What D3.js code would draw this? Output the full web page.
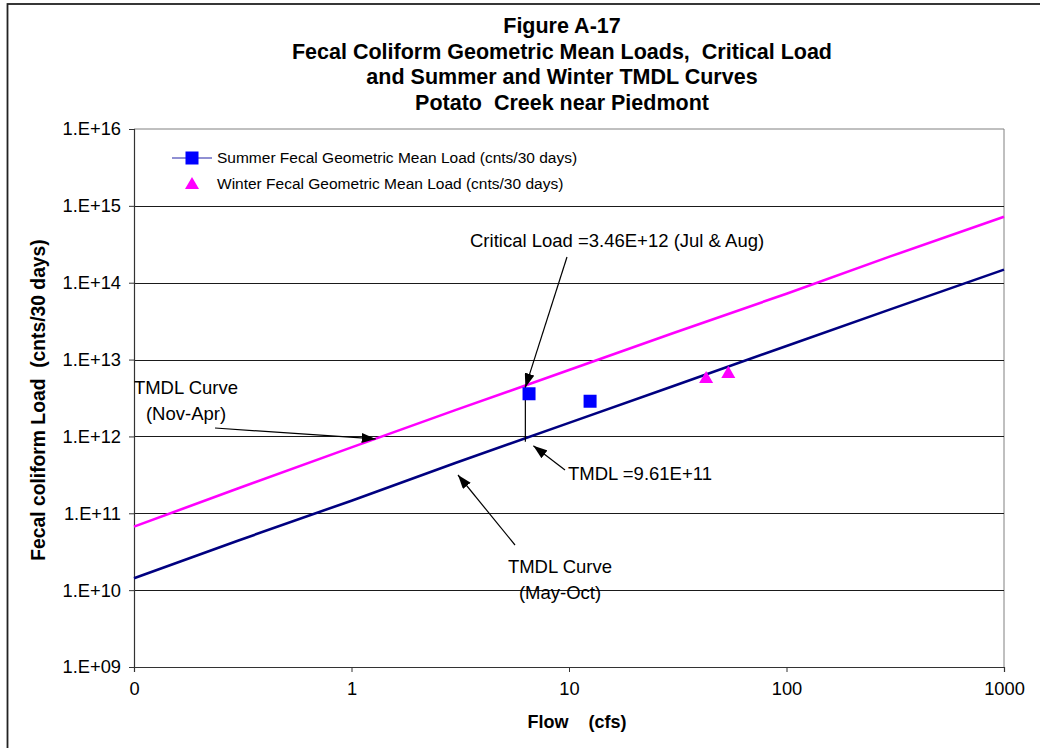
<!DOCTYPE html>
<html>
<head>
<meta charset="utf-8">
<script src="https://cdn.jsdelivr.net/npm/d3@7"></script>
<style>
  html, body { margin: 0; padding: 0; background: #ffffff; }
  svg { display: block; }
  text { font-family: Arial, "Liberation Sans", sans-serif; fill: #000; white-space: pre; }
</style>
</head>
<body>
<svg id="chart" width="1040" height="748"></svg>
<script>
// ---- data ----
const titleLines = [
  "Figure A-17",
  "Fecal Coliform Geometric Mean Loads,  Critical Load",
  "and Summer and Winter TMDL Curves",
  "Potato  Creek near Piedmont"
];

// TMDL curves (flow in cfs, load in cnts/30 days)
const curveFlows   = [0.1, 0.3, 1, 3, 10, 30, 100, 300, 1000];
const summerCurve  = [1.43e10, 4.4e10, 1.46e11, 4.5e11, 1.5e12, 4.5e12, 1.5e13, 4.5e13, 1.48e14];
const winterCurve  = [6.7e10, 2.1e11, 7.2e11, 2.2e12, 7.3e12, 2.2e13, 7.2e13, 2.2e14, 7.2e14];

// geometric mean loads
const summerFlows = [6.55, 12.5];
const summerLoads = [3.59e12, 2.87e12];
const winterFlows = [42.7, 54];
const winterLoads = [5.75e12, 6.7e12];

// critical condition
const criticalFlow = 6.3;
const criticalLoad = 3.46e12;
const tmdlValue    = 9.61e11;

// axis ticks
const xTicks      = [0.1, 1, 10, 100, 1000];
const xTickLabels = ["0", "1", "10", "100", "1000"];
const yTicks      = [1e9, 1e10, 1e11, 1e12, 1e13, 1e14, 1e15, 1e16];
const yTickLabels = ["1.E+09", "1.E+10", "1.E+11", "1.E+12", "1.E+13", "1.E+14", "1.E+15", "1.E+16"];

const legendLabels = [
  "Summer Fecal Geometric Mean Load (cnts/30 days)",
  "Winter Fecal Geometric Mean Load (cnts/30 days)"
];

// ---- layout ----
const svg = d3.select("#chart");
const plot = { left: 134, right: 1004, top: 129, bottom: 667 };

const x = d3.scaleLog().domain([0.1, 1000]).range([plot.left, plot.right]);
const y = d3.scaleLog().domain([1e9, 1e16]).range([plot.bottom, plot.top]);

// outer frame
svg.append("rect")
  .attr("x", 7.5).attr("y", 4).attr("width", 1040).attr("height", 760)
  .attr("fill", "none").attr("stroke", "#222").attr("stroke-width", 1.8);

// arrow marker
const defs = svg.append("defs");
defs.append("marker")
  .attr("id", "arrowhead")
  .attr("viewBox", "0 0 14 10")
  .attr("refX", 14).attr("refY", 5)
  .attr("markerWidth", 14).attr("markerHeight", 10)
  .attr("markerUnits", "userSpaceOnUse")
  .attr("orient", "auto")
  .append("path").attr("d", "M0,0 L14,5 L0,10 Z").attr("fill", "#000");

// title
svg.append("g").selectAll("text")
  .data(titleLines).join("text")
  .attr("x", 562)
  .attr("y", (d, i) => 33 + i * 25.7)
  .attr("text-anchor", "middle")
  .style("font-size", "21.5px")
  .style("font-weight", "bold")
  .text(d => d);

// plot border (top and right)
svg.append("path")
  .attr("d", `M${plot.left},${plot.top}H${plot.right}V${plot.bottom}`)
  .attr("fill", "none").attr("stroke", "#808080").attr("stroke-width", 1);

// horizontal gridlines
svg.append("g").selectAll("line")
  .data(yTicks.slice(1, -1)).join("line")
  .attr("x1", plot.left).attr("x2", plot.right)
  .attr("y1", d => Math.round(y(d)) + 0.5).attr("y2", d => Math.round(y(d)) + 0.5)
  .attr("stroke", "#1a1a1a").attr("stroke-width", 1);

// y axis
const yAxis = d3.axisLeft(y)
  .tickValues(yTicks)
  .tickFormat((d, i) => yTickLabels[i])
  .tickSize(5).tickPadding(8);
const gy = svg.append("g").attr("transform", `translate(${plot.left},0)`).call(yAxis);
gy.select(".domain").attr("stroke", "#333").attr("stroke-width", 1.2);
gy.selectAll(".tick line").attr("stroke", "#333");
gy.selectAll(".tick text").style("font-size", "18.3px").style("font-family", "Arial, 'Liberation Sans', sans-serif");

// x axis
const xAxis = d3.axisBottom(x)
  .tickValues(xTicks)
  .tickFormat((d, i) => xTickLabels[i])
  .tickSize(5).tickPadding(10);
const gx = svg.append("g").attr("transform", `translate(0,${plot.bottom})`).call(xAxis);
gx.select(".domain").attr("stroke", "#333").attr("stroke-width", 1.2);
gx.selectAll(".tick line").attr("stroke", "#333");
gx.selectAll(".tick text").style("font-size", "18.3px").style("font-family", "Arial, 'Liberation Sans', sans-serif");

// axis titles
svg.append("text")
  .attr("transform", `translate(45,400) rotate(-90)`)
  .attr("text-anchor", "middle")
  .style("font-size", "19.3px").style("font-weight", "bold")
  .text("Fecal coliform Load  (cnts/30 days)");

svg.append("text")
  .attr("x", 577).attr("y", 728)
  .attr("text-anchor", "middle")
  .style("font-size", "18px").style("font-weight", "bold")
  .text("Flow    (cfs)");

// TMDL curves
const line = d3.line().x(d => x(d[0])).y(d => y(d[1]));
svg.append("path")
  .datum(curveFlows.map((f, i) => [f, winterCurve[i]]))
  .attr("d", line).attr("fill", "none")
  .attr("stroke", "#ff00ff").attr("stroke-width", 2.6);
svg.append("path")
  .datum(curveFlows.map((f, i) => [f, summerCurve[i]]))
  .attr("d", line).attr("fill", "none")
  .attr("stroke", "#000080").attr("stroke-width", 2.6);

// critical flow: vertical segment between the two TMDL curves
const winterAt = f => {
  const interp = d3.scaleLog().domain(curveFlows).range(winterCurve.map(Math.log10));
  return Math.pow(10, interp(f));
};
const critTop = winterAt(criticalFlow);
svg.append("line")
  .attr("x1", x(criticalFlow)).attr("x2", x(criticalFlow))
  .attr("y1", y(critTop)).attr("y2", y(tmdlValue) + 4)
  .attr("stroke", "#000").attr("stroke-width", 1.2);

// summer geometric means (squares)
const sq = 13;
svg.append("g").selectAll("rect")
  .data(summerFlows.map((f, i) => [f, summerLoads[i]])).join("rect")
  .attr("x", d => x(d[0]) - sq / 2).attr("y", d => y(d[1]) - sq / 2)
  .attr("width", sq).attr("height", sq)
  .attr("fill", "#0000ff");

// winter geometric means (triangles)
const tri = d3.symbol().type(d3.symbolTriangle).size(85);
svg.append("g").selectAll("path")
  .data(winterFlows.map((f, i) => [f, winterLoads[i]])).join("path")
  .attr("transform", d => `translate(${x(d[0])},${y(d[1]) + 1})`)
  .attr("d", tri)
  .attr("fill", "#ff00ff");

// legend
const lg = svg.append("g");
lg.append("line").attr("x1", 172).attr("x2", 212).attr("y1", 158).attr("y2", 158)
  .attr("stroke", "#6b6bc4").attr("stroke-width", 1.5);
lg.append("rect").attr("x", 192 - 6.5).attr("y", 158 - 6.5).attr("width", 13).attr("height", 13)
  .attr("fill", "#0000ff");
lg.append("path").attr("transform", "translate(192,185)").attr("d", tri).attr("fill", "#ff00ff");
lg.selectAll("text").data(legendLabels).join("text")
  .attr("x", 217).attr("y", (d, i) => 158 + i * 26)
  .attr("dy", "0.35em")
  .style("font-size", "15.5px")
  .text(d => d);

// annotations
function arrow(x1, y1, x2, y2) {
  svg.append("line")
    .attr("x1", x1).attr("y1", y1).attr("x2", x2).attr("y2", y2)
    .attr("stroke", "#000").attr("stroke-width", 1.2)
    .attr("marker-end", "url(#arrowhead)");
}
function label(lines, cx, cy, anchor) {
  const t = svg.append("text")
    .attr("text-anchor", anchor)
    .style("font-size", "18.5px");
  lines.forEach((s, i) => {
    t.append("tspan").attr("x", cx).attr("y", cy + i * 26).attr("dy", "0.35em").text(s);
  });
}
const sci = v => d3.format(".2e")(v).replace("e", "E");

label(["Critical Load =" + sci(criticalLoad) + " (Jul & Aug)"], 470, 241, "start");
arrow(567, 257, x(criticalFlow), y(critTop) + 2);

label(["TMDL Curve", "(Nov-Apr)"], 186, 388, "middle");
arrow(215, 428, x(1.32) - 2, y(winterAt(1.32)) + 1);

label(["TMDL =" + sci(tmdlValue)], 568, 474, "start");
arrow(565, 470, x(criticalFlow) + 8, y(tmdlValue) + 8);

label(["TMDL Curve", "(May-Oct)"], 560, 567, "middle");
arrow(515, 545, 458, 475);
</script>
</body>
</html>
